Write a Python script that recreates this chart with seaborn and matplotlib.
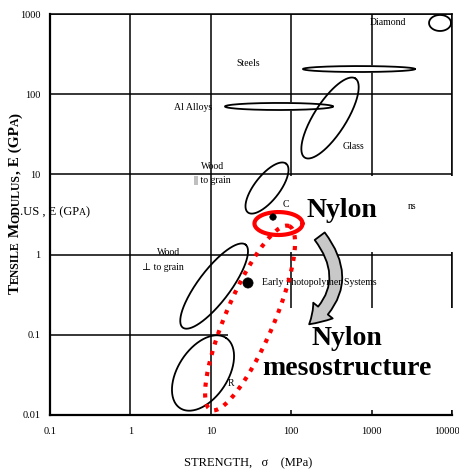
import numpy as np
import pandas as pd
import matplotlib
matplotlib.use("Agg")
import matplotlib.pyplot as plt
import matplotlib.transforms as mtransforms
import seaborn as sns
from matplotlib.patches import Rectangle, FancyArrowPatch
from matplotlib.ticker import FixedLocator, FixedFormatter, NullLocator

# material regions: centre (strength MPa, modulus GPa), semi-axes in decades, tilt in degrees
regions = ["Diamond", "Steels", "Al Alloys", "Glass", "Wood par", "Wood perp", "Polymers"]
reg_x = [7100, 697, 70.5, 304, 50, 11.0, 8.0]
reg_y = [773, 206, 70.3, 50.5, 6.76, 0.405, 0.0334]
reg_a = [0.137, 0.697, 0.672, 0.585, 0.386, 0.648, 0.523]
reg_b = [0.100, 0.037, 0.044, 0.200, 0.156, 0.200, 0.311]
reg_ang = [0, 0, 0, 57.5, 52, 53, 57]
reg_fill = [False, True, True, False, False, False, False]

# nylon (solid red) and nylon mesostructure (dotted red)
nylon = dict(x=69.5, y=2.44, a=0.299, b=0.143, ang=0)
meso = dict(x=30.8, y=0.162, a=1.245, b=0.30, ang=67)

# points
pt_x = [29, 59.4]
pt_y = [0.443, 2.94]
pt_s = [55, 22]

ticks = [0.1, 1, 10, 100, 1000, 10000]
xtick_labels = ["0.1", "1", "10", "100", "1000", "10000"]
yticks = [0.01, 0.1, 1, 10, 100, 1000]
ytick_labels = ["0.01", "0.1", "1", "10", "100", "1000"]

# small labels (text, x, y, ha)
labels = [
    ("Diamond", 1600, 794, "center"),
    ("Steels", 29, 238, "center"),
    ("Al Alloys", 6.0, 69, "center"),
    ("Glass", 604, 22, "center"),
    ("Wood", 10.4, 12.7, "center"),
    ("|| to grain", 10.4, 8.3, "center"),
    ("Wood", 2.94, 1.05, "center"),
    ("⊥ to grain", 2.54, 0.70, "center"),
    ("Early Photopolymer Systems", 43.4, 0.455, "left"),
    ("C", 86, 4.27, "center"),
    ("ns", 3180, 4.03, "center"),
    ("R", 17.8, 0.0244, "center"),
]

big_labels = [
    ("Nylon", 428, 3.5),
    ("Nylon\nmesostructure", 494, 0.058),
]


def ellipse(cx, cy, a, b, ang, n=200):
    t = np.linspace(0, 2 * np.pi, n)
    th = np.deg2rad(ang)
    lx = np.log10(cx) + a * np.cos(t) * np.cos(th) - b * np.sin(t) * np.sin(th)
    ly = np.log10(cy) + a * np.cos(t) * np.sin(th) + b * np.sin(t) * np.cos(th)
    return 10 ** lx, 10 ** ly


sns.set_theme(style="white")
serif = ["Liberation Serif", "DejaVu Serif"]
plt.rcParams["font.family"] = serif
plt.rcParams["text.color"] = "black"
plt.rcParams["axes.labelcolor"] = "black"

W, H = 460, 476
fig = plt.figure(figsize=(W / 100, H / 100), dpi=100)
ax = fig.add_axes([50 / W, 1 - 415 / H, 402 / W, 401 / H])
ax.set_xscale("log")
ax.set_yscale("log")
ax.set_xlim(0.1, 10000)
ax.set_ylim(0.01, 1000)

ax.xaxis.set_major_locator(FixedLocator(ticks))
ax.xaxis.set_major_formatter(FixedFormatter(xtick_labels))
ax.yaxis.set_major_locator(FixedLocator(yticks))
ax.yaxis.set_major_formatter(FixedFormatter(ytick_labels))
ax.xaxis.set_minor_locator(NullLocator())
ax.yaxis.set_minor_locator(NullLocator())
ax.tick_params(axis="both", length=0, labelsize=7.5, colors="black")
ax.tick_params(axis="x", pad=9)
ax.tick_params(axis="y", pad=7)
ax.grid(True, which="major", color="black", linewidth=1.1)
ax.set_axisbelow(True)
for side, sp in ax.spines.items():
    sp.set_color("black")
    sp.set_linewidth(1.1)
ax.spines["left"].set_linewidth(1.6)
ax.spines["bottom"].set_linewidth(1.6)

# last x label sits on the right edge, nudge it in a little
last = ax.get_xticklabels()[-1]
last.set_transform(last.get_transform() + mtransforms.ScaledTranslation(-5 / 100, 0, fig.dpi_scale_trans))

# white patches hiding part of the grid
ax.add_patch(Rectangle((0.428, 0.406), 0.6, 0.189, transform=ax.transAxes,
                       facecolor="white", edgecolor="none", zorder=2.6, clip_on=False))
ax.add_patch(Rectangle((0.443, 0.012), 0.6, 0.255, transform=ax.transAxes,
                       facecolor="white", edgecolor="none", zorder=2.6, clip_on=False))

for i in range(len(regions)):
    ex, ey = ellipse(reg_x[i], reg_y[i], reg_a[i], reg_b[i], reg_ang[i])
    if reg_fill[i]:
        ax.fill(ex, ey, color="white", zorder=3.5)
    ax.plot(ex, ey, color="black", lw=1.3, zorder=4)

nx, ny = ellipse(nylon["x"], nylon["y"], nylon["a"], nylon["b"], nylon["ang"])
ax.plot(nx, ny, color="red", lw=3, zorder=5)
mx, my = ellipse(meso["x"], meso["y"], meso["a"], meso["b"], meso["ang"])
ax.plot(mx, my, color="red", lw=3, ls=(0, (1, 1.6)), zorder=5)

pts = pd.DataFrame({"x": pt_x, "y": pt_y, "s": pt_s})
sns.scatterplot(data=pts, x="x", y="y", size="s", sizes=(min(pt_s), max(pt_s)),
                color="black", edgecolor="black", legend=False, ax=ax, zorder=6)
ax.set_xlabel("")
ax.set_ylabel("")

for txt, x, y, ha in labels:
    ax.text(x, y, txt, ha=ha, va="center", fontsize=7, family=serif, zorder=4.5)

for txt, x, y in big_labels:
    ax.text(x, y, txt, ha="center", va="center", fontsize=20, fontweight="bold",
            family=serif, linespacing=1.25, zorder=6)

# curved arrow: grey upper half, open lower half, under the small labels
posA = (318 / W, 1 - 234 / H)
posB = (307 / W, 1 - 326 / H)
style = "simple,head_length=1.4,head_width=1.8,tail_width=0.9"
grey = FancyArrowPatch(posA, posB, transform=fig.transFigure, arrowstyle=style,
                       connectionstyle="arc3,rad=-0.5", mutation_scale=10,
                       facecolor="#c8c8c8", edgecolor="none", zorder=4.2, clip_on=False)
ax.add_patch(grey)
grey.set_clip_path(Rectangle((0, 1 - 292 / H), 1, 1, transform=fig.transFigure))
outline = FancyArrowPatch(posA, posB, transform=fig.transFigure, arrowstyle=style,
                          connectionstyle="arc3,rad=-0.5", mutation_scale=10,
                          facecolor="none", edgecolor="black", lw=1.3, zorder=4.3,
                          clip_on=False)
ax.add_patch(outline)

# axis labels
fig.text(248 / W, 1 - 463 / H, "STRENGTH,   σ    (MPa)", ha="center", va="center",
         fontsize=9, family=serif)

renderer = fig.canvas.get_renderer()


def run_text(pieces, x0, y0, rotation, weight):
    # pieces laid along the baseline, small caps done by size
    pos = x0 if rotation == 0 else y0
    for txt, size in pieces:
        if rotation == 0:
            t = fig.text(pos / W, 1 - y0 / H, txt, fontsize=size, fontweight=weight,
                         family=serif, ha="left", va="baseline")
        else:
            t = fig.text(x0 / W, 1 - pos / H, txt, fontsize=size, fontweight=weight,
                         family=serif, ha="left", va="baseline", rotation=90,
                         rotation_mode="anchor")
        bb = t.get_window_extent(renderer)
        if rotation == 0:
            pos += bb.width
        else:
            pos -= bb.height


big, small = 11, 8.5
run_text([("T", big), ("ENSILE", small), (" M", big), ("ODULUS", small),
          (", E (GP", big), ("A", small), (")", big)], 19, 294, 90, "bold")
run_text([(".US , E (GP", 9), ("A", 7), (")", 9)], 20, 215, 0, "normal")

fig.savefig("out.png", dpi=100)
